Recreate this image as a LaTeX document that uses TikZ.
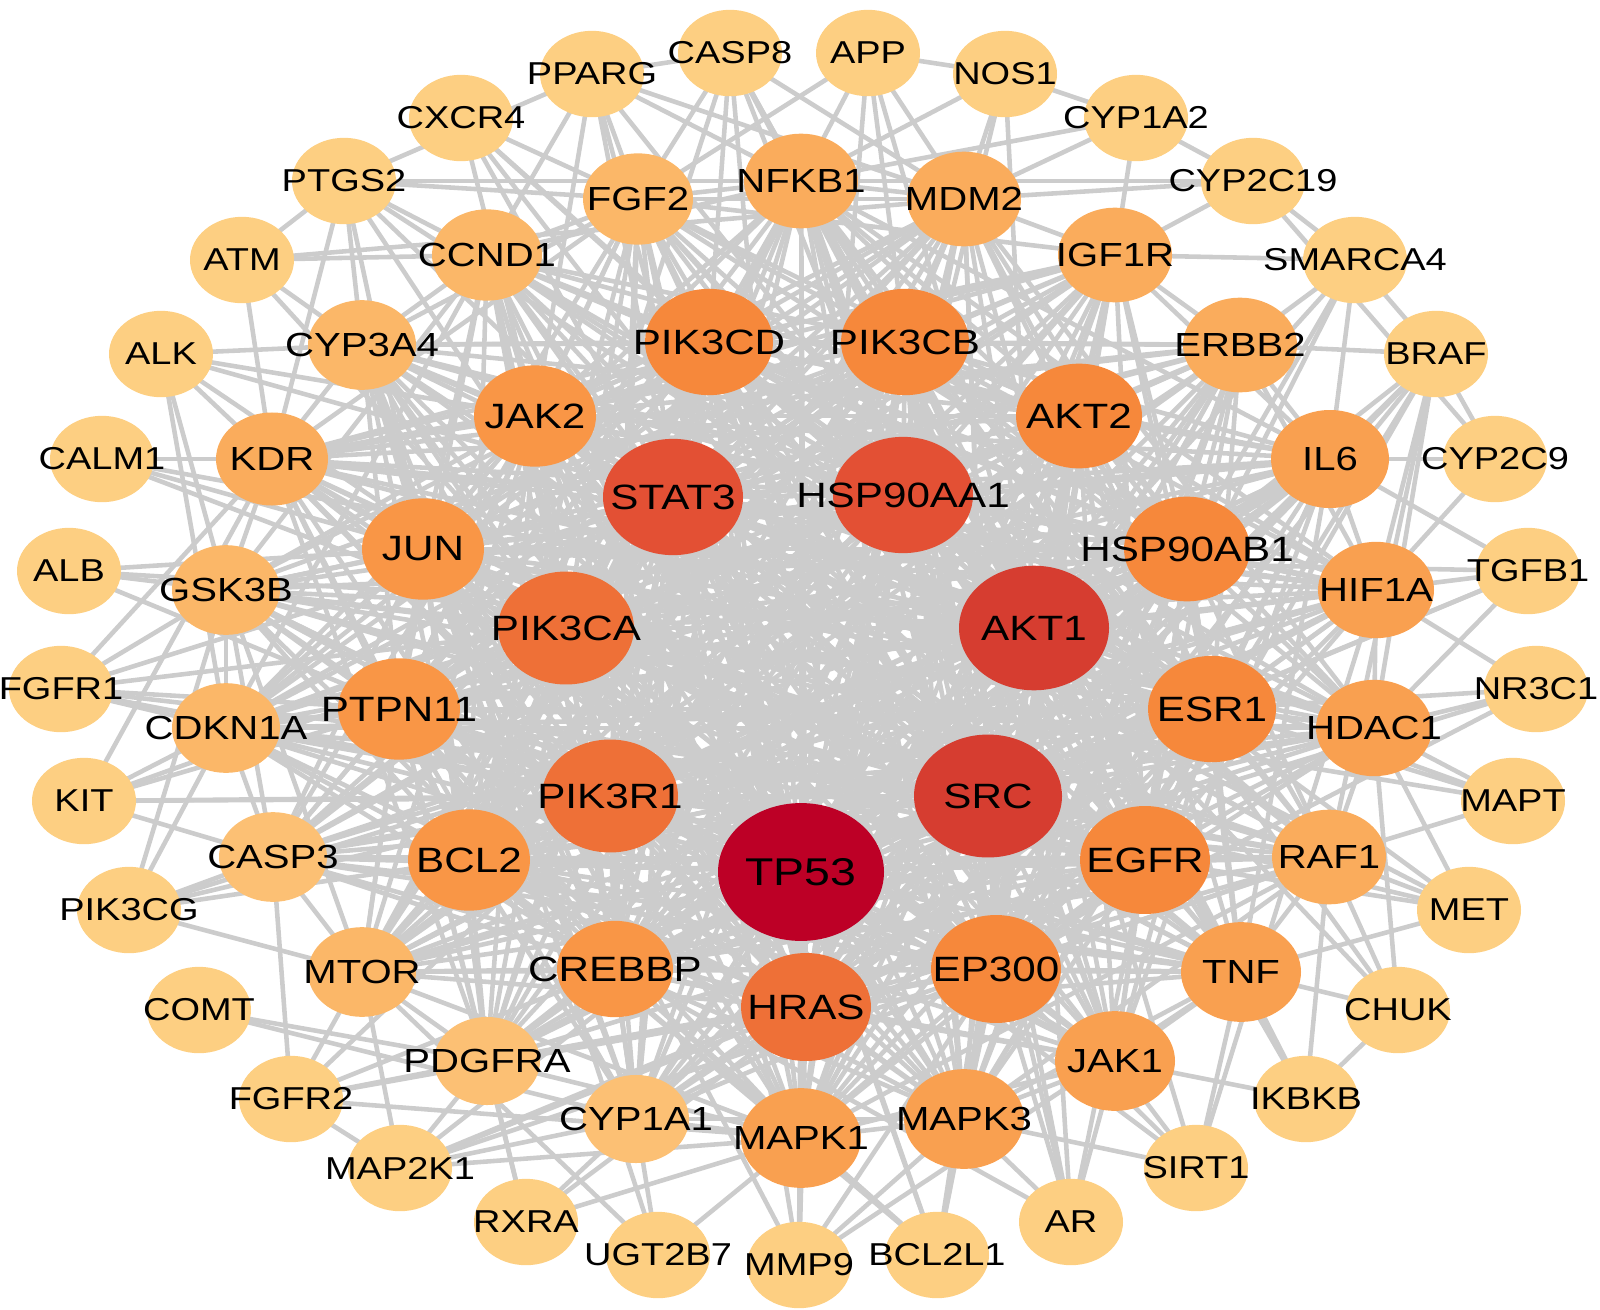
\documentclass[tikz,border=0pt]{standalone}
\usepackage{fontspec}
\newfontfamily\genefont{Liberation Sans}[FakeStretch=1.2]
\usetikzlibrary{shapes.geometric,backgrounds}

\definecolor{lv1}{RGB}{253,207,130}
\definecolor{lv2}{RGB}{252,192,116}
\definecolor{lv3}{RGB}{251,183,104}
\definecolor{lv4}{RGB}{250,172,92}
\definecolor{lv5}{RGB}{249,160,80}
\definecolor{lv6}{RGB}{249,150,70}
\definecolor{lv7}{RGB}{246,136,59}
\definecolor{lv8}{RGB}{238,112,55}
\definecolor{lv9}{RGB}{227,80,52}
\definecolor{lv10}{RGB}{214,61,48}
\definecolor{lv11}{RGB}{189,0,38}
\definecolor{linkgray}{RGB}{204,204,204}

\begin{document}
\begin{tikzpicture}[x=0.01cm, y=-0.01cm,
    gene/.style={ellipse, inner sep=0pt, text=black,
        minimum width=#1*0.01cm, minimum height=#1*0.0083cm},
    ringout/.style={font=\genefont\fontsize{9}{10}\selectfont},
    ringmid/.style={font=\genefont\fontsize{9.5}{11}\selectfont},
    ringin/.style={font=\genefont\fontsize{10}{12}\selectfont},
    link/.style={draw=linkgray, line width=1.3pt}]
    \useasboundingbox (0,0) rectangle (1600,1309);

    % Core (highest degree)
    \node[gene=166, fill=lv11, font=\genefont\fontsize{11}{13}\selectfont] (TP53) at (801,872) {\makebox[0pt]{TP53}};
    \foreach \n/\x/\y/\w/\c in {SRC/988/796/148/lv10, AKT1/1034/628/150/lv10,
        HSP90AA1/903/495/140/lv9, STAT3/673/497/140/lv9,
        PIK3CA/566/628/136/lv8, PIK3R1/610/796/136/lv8}
        \node[gene=\w, ringin, fill=\c] (\n) at (\x,\y) {\makebox[0pt]{\n}};

    % Inner ring
    \foreach \n/\x/\y/\w/\c in {PIK3CD/709/342/128/lv7, PIK3CB/905/342/128/lv7,
        AKT2/1079/416/126/lv7, HSP90AB1/1187/549/126/lv7, ESR1/1212/709/128/lv7,
        EGFR/1145/860/130/lv7, EP300/996/969/130/lv7, HRAS/806/1007/130/lv8,
        CREBBP/615/969/116/lv6, BCL2/469/860/122/lv6, PTPN11/399/709/122/lv6,
        JUN/423/549/122/lv6, JAK2/535/416/122/lv6}
        \node[gene=\w, ringin, fill=\c] (\n) at (\x,\y) {\makebox[0pt]{\n}};

    % Middle ring
    \foreach \n/\x/\y/\w/\c in {FGF2/638/199/110/lv3, NFKB1/801/181/114/lv4,
        MDM2/964/199/114/lv4, IGF1R/1115/255/114/lv4, ERBB2/1240/345/114/lv4,
        IL6/1330/459/118/lv5, HIF1A/1376/590/116/lv5, HDAC1/1374/728/116/lv5,
        RAF1/1329/857/114/lv4, TNF/1241/972/120/lv5, JAK1/1115/1061/120/lv5,
        MAPK3/964/1119/120/lv5, MAPK1/801/1138/120/lv5, CYP1A1/636/1119/106/lv2,
        PDGFRA/487/1061/106/lv2, MTOR/362/972/108/lv3, CASP3/273/857/108/lv2,
        CDKN1A/226/728/108/lv3, GSK3B/226/590/108/lv3, KDR/272/459/112/lv4,
        CYP3A4/362/345/108/lv3, CCND1/487/255/110/lv3}
        \node[gene=\w, ringmid, fill=\c] (\n) at (\x,\y) {\makebox[0pt]{\n}};

    % Outer ring
    \foreach \n/\x/\y in {CASP8/730/53, APP/868/53, NOS1/1005/74, PPARG/592/74,
        CXCR4/461/118, CYP1A2/1136/118, PTGS2/344/181, CYP2C19/1253/181,
        ATM/242/260, SMARCA4/1355/260, ALK/161/354, BRAF/1436/354,
        CALM1/102/459, CYP2C9/1495/459, ALB/69/571, TGFB1/1528/571,
        FGFR1/61/689, NR3C1/1536/689, KIT/84/801, MAPT/1513/801,
        PIK3CG/129/910, MET/1469/910, COMT/199/1010, CHUK/1398/1010,
        FGFR2/291/1099, IKBKB/1306/1099, MAP2K1/400/1168, SIRT1/1196/1168,
        RXRA/526/1222, AR/1071/1222, UGT2B7/658/1255, MMP9/799/1265,
        BCL2L1/937/1255}
        \node[gene=104, ringout, fill=lv1] (\n) at (\x,\y) {\makebox[0pt]{\n}};

    \def\coreset{TP53,SRC,AKT1,HSP90AA1,STAT3,PIK3CA,PIK3R1}
    \def\innerset{PIK3CD,PIK3CB,AKT2,HSP90AB1,ESR1,EGFR,EP300,HRAS,CREBBP,BCL2,PTPN11,JUN,JAK2}
    \def\midset{FGF2,NFKB1,MDM2,IGF1R,ERBB2,IL6,HIF1A,HDAC1,RAF1,TNF,JAK1,MAPK3,MAPK1,CYP1A1,PDGFRA,MTOR,CASP3,CDKN1A,GSK3B,KDR,CYP3A4,CCND1}
    \edef\centralset{\coreset,\innerset,\midset}
    \edef\ringset{\innerset,\midset}

    % Interactions
    \begin{pgfonlayer}{background}
        \foreach \a in \coreset
            \foreach \b in \centralset
                \draw[link] (\a.center) -- (\b.center);
        \foreach \a in \innerset
            \foreach \b in \ringset
                \draw[link] (\a.center) -- (\b.center);
        \foreach \a/\bl in {FGF2/{NFKB1,CCND1,MDM2,CYP3A4,KDR,IGF1R},
            NFKB1/{MDM2,TNF,IL6,HIF1A,JAK1,MAPK1,MAPK3,CCND1},
            MDM2/{IGF1R,CDKN1A,HDAC1}, IGF1R/{ERBB2,IL6,MAPK1,MAPK3,KDR},
            ERBB2/{IL6,HIF1A,MAPK1,MAPK3,KDR}, IL6/{HIF1A,TNF,JAK1,MTOR},
            HIF1A/{HDAC1,MTOR,KDR}, HDAC1/{RAF1,CDKN1A}, RAF1/{TNF,MAPK1,MAPK3},
            TNF/{JAK1,MAPK3,CASP3}, JAK1/{MAPK3,MAPK1}, MAPK3/{MAPK1,CYP1A1},
            MAPK1/{CYP1A1,PDGFRA,MTOR}, PDGFRA/{MTOR,KDR}, MTOR/{CASP3,GSK3B},
            CASP3/{CDKN1A,GSK3B}, CDKN1A/{GSK3B,CCND1}, GSK3B/{KDR,CCND1},
            KDR/{CYP3A4}, CYP3A4/{CCND1,CYP1A1},
            PPARG/{PTGS2,FGF2,NFKB1,CCND1,JAK2,TP53,AKT1,STAT3,MDM2,CASP8},
            CASP8/{FGF2,NFKB1,MDM2,PIK3CD,TP53,AKT1,HSP90AA1,TNF,BCL2},
            CXCR4/{FGF2,PIK3CD,STAT3,JAK2,AKT1,SRC},
            PTGS2/{FGF2,NFKB1,CCND1,CYP3A4,KDR,TP53,STAT3,AKT1,JUN},
            ATM/{PTGS2,CCND1,CYP3A4,KDR,TP53,MDM2},
            ALK/{CYP3A4,KDR,GSK3B,CDKN1A,JAK2,STAT3,PIK3CA},
            CALM1/{KDR,JUN,AKT1,SRC}, ALB/{GSK3B,JUN,AKT1,TP53},
            FGFR1/{CDKN1A,GSK3B,KDR,PTPN11,PIK3CA,PIK3R1,SRC,STAT3},
            KIT/{CDKN1A,CASP3,PTPN11,PIK3CA,PIK3R1,SRC,KDR},
            PIK3CG/{CASP3,CDKN1A,GSK3B,MTOR,PIK3R1,BCL2,AKT1},
            COMT/{PDGFRA,CYP1A1},
            FGFR2/{MTOR,PDGFRA,CASP3,PIK3R1,CREBBP,MAPK1,HRAS,MAP2K1},
            MAP2K1/{MTOR,PDGFRA,CYP1A1,MAPK1,RAF1,HRAS,BRAF,EGFR},
            RXRA/{CYP1A1,PDGFRA,MAPK1,ESR1,PTPN11},
            UGT2B7/{CYP1A1,MAPK1,CYP3A4,MTOR},
            MMP9/{MAPK1,MAPK3,TP53,HRAS,EP300,TNF,JUN,STAT3},
            BCL2L1/{MAPK1,MAPK3,TP53,BCL2,AKT1,STAT3,CREBBP},
            AR/{MAPK3,JAK1,EP300,SRC,EGFR,CREBBP,HSP90AA1,AKT1},
            SIRT1/{JAK1,TNF,MAPK3,EP300,TP53,AKT1,HIF1A},
            IKBKB/{TNF,CHUK,JAK1,RAF1,AKT1,NFKB1},
            CHUK/{TNF,RAF1,HDAC1,NFKB1,AKT1},
            MET/{RAF1,HDAC1,TNF,EGFR,SRC,HSP90AA1,STAT3},
            MAPT/{RAF1,HDAC1,ESR1,AKT1,GSK3B},
            NR3C1/{HDAC1,HIF1A,ESR1,EP300,CREBBP},
            TGFB1/{HIF1A,HDAC1,IL6,TP53,SRC,JUN},
            CYP2C9/{IL6,HIF1A,BRAF,CYP2C19},
            BRAF/{IL6,HIF1A,ERBB2,SMARCA4,RAF1,HDAC1,EGFR,HRAS,MAPK1,MAPK3},
            SMARCA4/{ERBB2,IL6,IGF1R,CYP2C19,HSP90AB1,EP300,TP53},
            CYP2C19/{IGF1R,MDM2,CYP1A2,NFKB1},
            CYP1A2/{MDM2,IGF1R,NOS1,NFKB1},
            NOS1/{MDM2,NFKB1,APP,HSP90AA1,AKT1},
            APP/{NFKB1,MDM2,FGF2,AKT1,PIK3CB,TP53}}
            \foreach \b in \bl
                \draw[link] (\a.center) -- (\b.center);
    \end{pgfonlayer}
\end{tikzpicture}
\end{document}
